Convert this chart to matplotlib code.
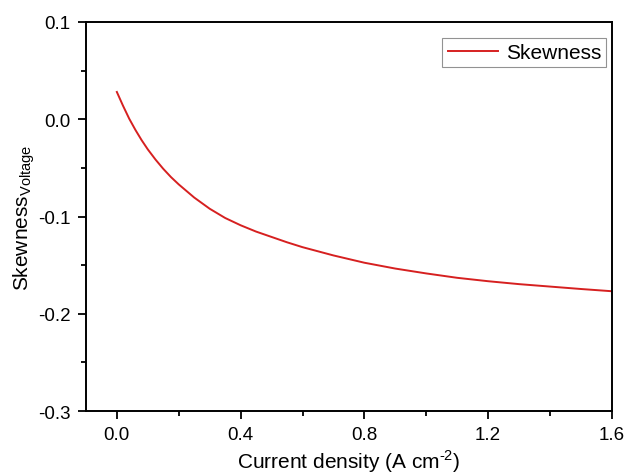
import matplotlib
matplotlib.use("Agg")
import matplotlib.pyplot as plt
from matplotlib.ticker import MultipleLocator, FormatStrFormatter

plt.rcParams['font.family'] = ['Liberation Sans', 'DejaVu Sans']
plt.rcParams['mathtext.fontset'] = 'custom'
plt.rcParams['mathtext.rm'] = 'Liberation Sans'

current_density = [0.0, 0.02, 0.04, 0.06, 0.08, 0.10, 0.125, 0.15, 0.175, 0.2, 0.25, 0.3,
                   0.35, 0.4, 0.45, 0.5, 0.55, 0.6, 0.7, 0.8, 0.9, 1.0, 1.1, 1.2, 1.3,
                   1.4, 1.5, 1.6]
skewness = [0.028, 0.0138, 0.0005, -0.011, -0.0215, -0.031, -0.0415, -0.051, -0.0595,
            -0.067, -0.0805, -0.092, -0.1015, -0.109, -0.1155, -0.121, -0.1265, -0.1315,
            -0.140, -0.1475, -0.1535, -0.1585, -0.163, -0.1665, -0.1695, -0.172,
            -0.1745, -0.1768]

fig = plt.figure(figsize=(6.27, 4.77), dpi=100)
ax = fig.add_axes([0.137, 0.136, 0.839, 0.816])
ax.plot(current_density, skewness, color='#d62020', lw=1.4, label='Skewness')

ax.set_xlim(-0.1, 1.6)
ax.set_ylim(-0.3, 0.1)
ax.xaxis.set_major_locator(MultipleLocator(0.4))
ax.xaxis.set_minor_locator(MultipleLocator(0.2))
ax.yaxis.set_major_locator(MultipleLocator(0.1))
ax.yaxis.set_minor_locator(MultipleLocator(0.05))
ax.xaxis.set_major_formatter(FormatStrFormatter('%.1f'))
ax.yaxis.set_major_formatter(FormatStrFormatter('%.1f'))
ax.tick_params(which='major', direction='out', length=6, width=1.3, labelsize=13.5, pad=5)
ax.tick_params(which='minor', direction='out', length=3.5, width=1.3)
for s in ax.spines.values():
    s.set_linewidth(1.4)

ax.set_xlabel('Current density (A cm$^{\\mathregular{\\text{-}2}}$)', fontsize=15, labelpad=3)
ax.set_ylabel('Skewness$_{\\mathregular{Voltage}}$', fontsize=15, labelpad=1)

leg = ax.legend(loc='upper right', bbox_to_anchor=(0.9895, 0.959), fontsize=15,
                frameon=True, fancybox=False, edgecolor='#777777', handlelength=2.4,
                borderpad=0.25, borderaxespad=0.0, handletextpad=0.4)
leg.get_frame().set_linewidth(0.8)

fig.savefig('out.png', dpi=100)
